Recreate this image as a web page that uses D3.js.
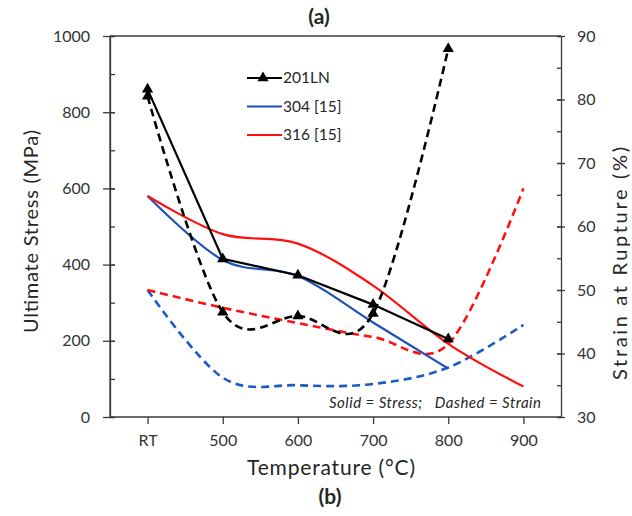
<!DOCTYPE html>
<html>
<head>
<meta charset="utf-8">
<script src="https://cdn.jsdelivr.net/npm/d3@7"></script>
<style>
  body { margin: 0; background: #fff; }
  svg text { font-family: Lato, "Open Sans", sans-serif; fill: #262626; }
</style>
</head>
<body>
<script>
var w = 632;
var h = 516;

// categories on the temperature axis
var temps = ["RT", "500", "600", "700", "800", "900"];

// ultimate stress (MPa), solid lines
var stress201 = [860, 415, 372, 295, 205];
var stress304 = [580, 412, 370, 248, 127];
var stress316 = [580, 480, 455, 345, 192, 80];

// strain at rupture (%), dashed lines
var strain201 = [80.5, 46.5, 45.9, 46.3, 88];
var strain304 = [50, 36.2, 35.0, 35.2, 37.8, 44.5];
var strain316 = [50, 47.2, 44.8, 42.6, 41.5, 66];

var stressTicks = [0, 200, 400, 600, 800, 1000];
var strainTicks = [30, 40, 50, 60, 70, 80, 90];

var legendNames = ["201LN", "304 [15]", "316 [15]"];

var padL = 110, padR = 561, padT = 36, padB = 417;

var xScale = d3.scalePoint()
    .domain(temps)
    .range([padL, padR])
    .padding(0.5);

var yStress = d3.scaleLinear()
    .domain([0, 1000])
    .range([padB, padT]);

var yStrain = d3.scaleLinear()
    .domain([30, 90])
    .range([padB, padT]);

var svg = d3.select("body")
    .append("svg")
    .attr("width", w)
    .attr("height", h);

/*
    Axes: major ticks cross the line, minor ticks only point inside.
*/
var axisColor = "#3a3a3a";

function styleAxis(g) {
    g.selectAll("path, line").attr("stroke", axisColor).attr("stroke-width", 1.3);
    g.selectAll("text").style("font-size", "16px").style("fill", "#333");
}

// left, minor
svg.append("g")
    .attr("transform", "translate(" + padL + ",0)")
    .call(d3.axisLeft(yStress).tickValues(d3.range(0, 1001, 100)).tickSize(-5).tickFormat("").tickSizeOuter(0))
    .call(styleAxis);
// left, major
svg.append("g")
    .attr("transform", "translate(" + (padL + 5) + ",0)")
    .call(d3.axisLeft(yStress).tickValues(stressTicks).tickFormat(d3.format("d"))
        .tickSize(12).tickPadding(13).tickSizeOuter(0))
    .call(function(g){ g.select(".domain").remove(); })
    .call(styleAxis);
svg.append("line")
    .attr("x1", padL).attr("x2", padL)
    .attr("y1", padT).attr("y2", padB)
    .attr("stroke", axisColor).attr("stroke-width", 1.3);

// right, minor
svg.append("g")
    .attr("transform", "translate(" + padR + ",0)")
    .call(d3.axisRight(yStrain).tickValues(d3.range(30, 91, 5)).tickSize(-4).tickFormat("").tickSizeOuter(0))
    .call(styleAxis);
// right, major
svg.append("g")
    .attr("transform", "translate(" + (padR - 4) + ",0)")
    .call(d3.axisRight(yStrain).tickValues(strainTicks).tickSize(8).tickPadding(12).tickSizeOuter(0))
    .call(function(g){ g.select(".domain").remove(); })
    .call(styleAxis);

// bottom
svg.append("g")
    .attr("transform", "translate(0," + padB + ")")
    .call(d3.axisBottom(xScale).tickSize(7).tickPadding(11).tickSizeOuter(0))
    .call(styleAxis)
    .call(function(g){ g.select(".domain").attr("d", "M" + padL + ",0H" + padR); });

// top frame line
svg.append("line")
    .attr("x1", padL).attr("x2", padR)
    .attr("y1", padT).attr("y2", padT)
    .attr("stroke", axisColor).attr("stroke-width", 1.3);

/*
    Lines. Excel style smoothing for all but the 201LN stress line.
*/
var smooth = d3.curveCatmullRom.alpha(0);

function drawLine(values, yScale, color, dashed, curve) {
    var line = d3.line()
        .x(function(d, i){ return xScale(temps[i]); })
        .y(function(d){ return yScale(d); })
        .curve(curve);
    svg.append("path")
        .datum(values)
        .attr("d", line)
        .attr("fill", "none")
        .attr("stroke", color)
        .attr("stroke-width", dashed ? 2.6 : 2.2)
        .attr("stroke-dasharray", dashed ? "8,5" : null);
}

var blue = "#1f50b8";
var red = "#ff1010";

drawLine(strain304, yStrain, "#1a5cc4", true, smooth);
drawLine(strain316, yStrain, red, true, smooth);
drawLine(stress304, yStress, blue, false, smooth);
drawLine(stress316, yStress, red, false, smooth);
drawLine(strain201, yStrain, "#000", true, smooth);
drawLine(stress201, yStress, "#000", false, d3.curveLinear);

var tri = d3.symbol().type(d3.symbolTriangle).size(55);

svg.selectAll(".mStress")
    .data(stress201)
    .enter()
    .append("path")
    .attr("d", tri)
    .attr("transform", function(d, i){
        return "translate(" + xScale(temps[i]) + "," + yStress(d) + ")";
    })
    .attr("fill", "#000");

svg.selectAll(".mStrain")
    .data(strain201)
    .enter()
    .append("path")
    .attr("d", tri)
    .attr("transform", function(d, i){
        return "translate(" + xScale(temps[i]) + "," + yStrain(d) + ")";
    })
    .attr("fill", "#000");

/*
    Legend
*/
var legendColors = ["#000", blue, red];
var legend = svg.append("g").attr("transform", "translate(247,78)");
legendNames.forEach(function(name, i){
    var g = legend.append("g").attr("transform", "translate(0," + (i * 28.5) + ")");
    g.append("line")
        .attr("x1", 0).attr("x2", 35)
        .attr("stroke", legendColors[i]).attr("stroke-width", 2.2);
    if (i == 0) {
        g.append("path").attr("d", tri).attr("transform", "translate(16,0)").attr("fill", "#000");
    }
    g.append("text")
        .attr("x", 36).attr("y", 5)
        .style("font-size", "15.5px")
        .text(name);
});

svg.append("text")
    .attr("x", 329).attr("y", 408)
    .attr("textLength", 212)
    .attr("lengthAdjust", "spacing")
    .style("font-size", "15px")
    .style("font-style", "italic")
    .attr("xml:space", "preserve")
    .text("Solid = Stress;   Dashed = Strain");

/*
    Titles
*/
svg.append("text")
    .attr("transform", "translate(38,130) rotate(-90)")
    .attr("x", -203)
    .attr("textLength", 203)
    .attr("lengthAdjust", "spacing")
    .style("font-size", "20px")
    .text("Ultimate Stress (MPa)");

svg.append("text")
    .attr("transform", "translate(627,147) rotate(-90)")
    .attr("x", -233)
    .attr("textLength", 233)
    .attr("lengthAdjust", "spacing")
    .style("font-size", "20px")
    .text("Strain at Rupture (%)");

svg.append("text")
    .attr("x", 247).attr("y", 475)
    .attr("textLength", 168)
    .attr("lengthAdjust", "spacing")
    .style("font-size", "21px")
    .text("Temperature (\u00B0C)");

svg.append("text")
    .attr("x", 319).attr("y", 24)
    .attr("text-anchor", "middle")
    .style("font-size", "21px")
    .style("font-weight", "bold")
    .text("(a)");

svg.append("text")
    .attr("x", 330).attr("y", 504)
    .attr("text-anchor", "middle")
    .style("font-size", "21px")
    .style("font-weight", "bold")
    .text("(b)");
</script>
</body>
</html>
